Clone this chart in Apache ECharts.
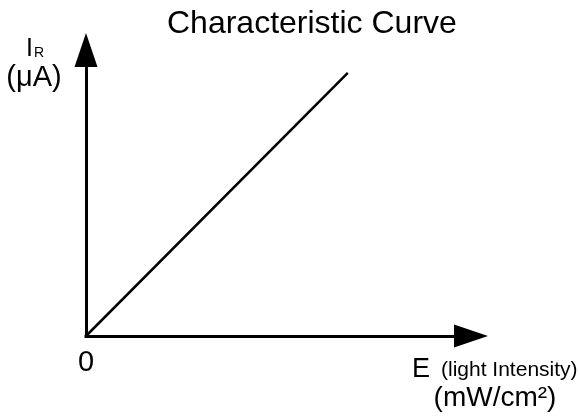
<!DOCTYPE html>
<html>
<head>
<meta charset="utf-8">
<script src="https://cdn.jsdelivr.net/npm/echarts@6/dist/echarts.min.js"></script>
<style>
html,body{margin:0;padding:0;background:#fff;}
#chart{width:580px;height:420px;}
</style>
</head>
<body>
<div id="chart"></div>
<script>
// Data
const titleText = 'Characteristic Curve';
const xValues = [0, 68];   // light intensity (position along the axis)
const yValues = [0, 92];   // reverse current (position along the axis)
const xTickLabels = ['0'];
const yLabelMain = 'I';
const yLabelSub = 'R';
const yLabelUnit = '(\u03bcA)';
const xLabelMain = 'E';
const xLabelNote = '(light Intensity)';
const xLabelUnit = '(mW/cm\u00b2)';

const FONT = '"Liberation Sans", Arial, sans-serif';
const chart = echarts.init(document.getElementById('chart'), null, {renderer: 'canvas'});

const seriesData = xValues.map((x, i) => [x, yValues[i]]);

const option = {
  animation: false,
  backgroundColor: '#ffffff',
  title: {
    text: titleText,
    left: 167,
    top: 8,
    padding: 0,
    textStyle: {fontFamily: FONT, fontSize: 32, fontWeight: 'normal', color: '#000'}
  },
  grid: {left: 86, right: 109, top: 50, bottom: 84, containLabel: false, outerBoundsMode: 'none'},
  xAxis: {
    type: 'value', min: 0, max: 100, interval: 100,
    axisLine: {show: true, onZero: true, symbol: ['none', 'triangle'], symbolSize: [23, 34],
      lineStyle: {color: '#000', width: 3, cap: 'square'}},
    axisTick: {show: false},
    splitLine: {show: false},
    axisLabel: {
      show: true, margin: 12, color: '#000', fontFamily: FONT, fontSize: 29,
      formatter: function (v) { return v === 0 ? xTickLabels[0] : ''; }
    }
  },
  yAxis: {
    type: 'value', min: 0, max: 100, interval: 100,
    axisLine: {show: true, onZero: true, symbol: ['none', 'triangle'], symbolSize: [23, 34],
      lineStyle: {color: '#000', width: 3, cap: 'square'}},
    axisTick: {show: false},
    splitLine: {show: false},
    axisLabel: {show: false}
  },
  series: [{
    type: 'line',
    data: seriesData,
    symbol: 'none',
    lineStyle: {color: '#000', width: 2.5},
    z: 1
  }],
  graphic: [
    {type: 'text', left: 26, top: 37, style: {text: yLabelMain, font: '25px ' + FONT, fill: '#000'}},
    {type: 'text', left: 34, top: 46.6, style: {text: yLabelSub, font: '14px ' + FONT, fill: '#000'}},
    {type: 'text', x: 34, y: 63, style: {text: yLabelUnit, font: '29px ' + FONT, fill: '#000', align: 'center', verticalAlign: 'top'}},
    {type: 'text', left: 412, top: 356, style: {text: xLabelMain, font: '27px ' + FONT, fill: '#000'}},
    {type: 'text', left: 441, top: 359.5, style: {text: xLabelNote, font: '21px ' + FONT, fill: '#000'}},
    {type: 'text', x: 495, y: 384.7, style: {text: xLabelUnit, font: '28px ' + FONT, fill: '#000', align: 'center', verticalAlign: 'top'}}
  ]
};
chart.setOption(option);
</script>
</body>
</html>
